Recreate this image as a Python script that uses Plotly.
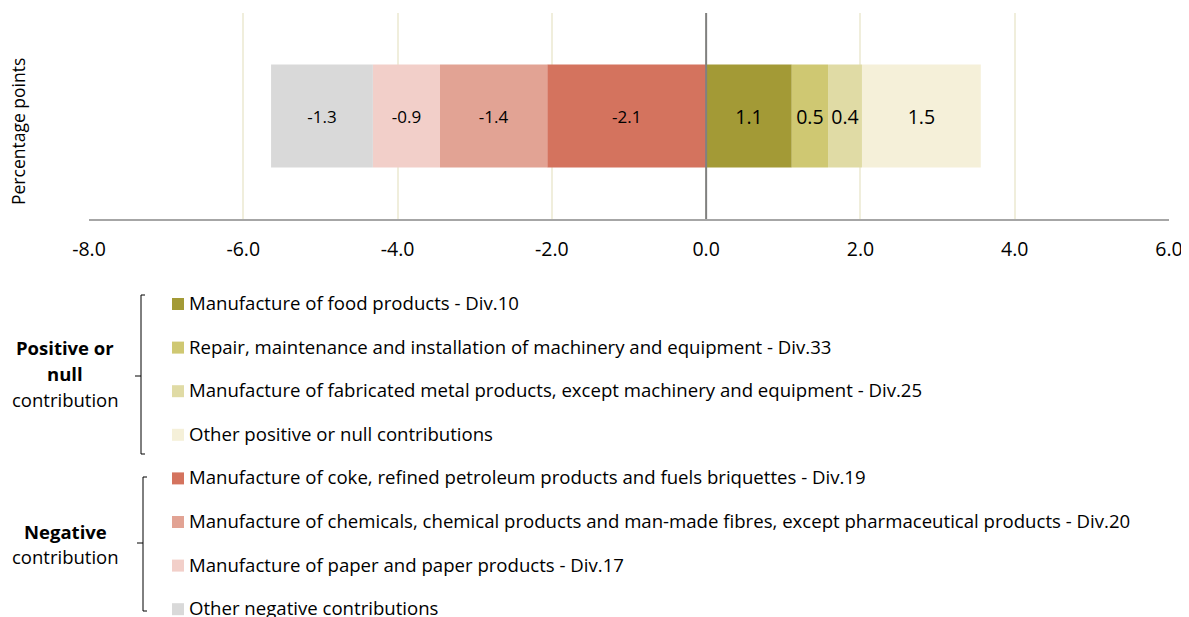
import plotly.graph_objects as go

# ---- data ----
category = ["Total"]
pos_names = [
    "Manufacture of food products - Div.10",
    "Repair, maintenance and installation of machinery and equipment - Div.33",
    "Manufacture of fabricated metal products, except machinery and equipment - Div.25",
    "Other positive or null contributions",
]
pos_values = [1.11, 0.47, 0.44, 1.54]
pos_colors = ["#A39A36", "#CFC872", "#E0DBA5", "#F5F0D9"]

neg_names = [
    "Manufacture of coke, refined petroleum products and fuels briquettes - Div.19",
    "Manufacture of chemicals, chemical products and man-made fibres, except pharmaceutical products - Div.20",
    "Manufacture of paper and paper products - Div.17",
    "Other negative contributions",
]
neg_values = [-2.06, -1.39, -0.87, -1.32]
neg_colors = ["#D4735E", "#E2A394", "#F2CFC9", "#D9D9D9"]

tick_vals = [-8, -6, -4, -2, 0, 2, 4, 6]
tick_text = ["-8.0", "-6.0", "-4.0", "-2.0", "0.0", "2.0", "4.0", "6.0"]

group_pos_lines = ["<b>Positive or</b>", "<b>null</b>", "contribution"]
group_neg_lines = ["<b>Negative</b>", "contribution"]

FONT = "Open Sans"

fig = go.Figure()
for name, v, c in zip(neg_names, neg_values, neg_colors):
    fig.add_trace(go.Bar(
        y=category, x=[v], name=name, orientation="h",
        marker=dict(color=c, line=dict(width=0)),
        text=[f"{v:.1f}"], textposition="inside", insidetextanchor="middle",
        textangle=0, textfont=dict(size=17, color="#000000", family=FONT),
        showlegend=False,
    ))
for name, v, c in zip(pos_names, pos_values, pos_colors):
    fig.add_trace(go.Bar(
        y=category, x=[v], name=name, orientation="h",
        marker=dict(color=c, line=dict(width=0)),
        text=[f"{v:.1f}"], textposition="inside", insidetextanchor="middle",
        textangle=0, textfont=dict(size=19.5, color="#000000", family=FONT),
        showlegend=False,
    ))

# page offset (browser body margin)
O = 8
W, H = 1189 - O, 617 - O
L, T = 89 - O, 13 - O
R = W - (1169 - O)
B = H - (219 - O)
PW, PH = W - L - R, H - T - B


def px(x):
    return (x - O - L) / PW


def py(y):
    return (H - B - (y - O)) / PH


shapes = []
annotations = []

# zero line
shapes.append(dict(type="line", xref="x", yref="paper", x0=0, x1=0, y0=0, y1=1,
                   line=dict(color="#808080", width=2)))

# y-axis title
annotations.append(dict(text="Percentage points", xref="paper", yref="paper",
                        x=px(18), y=py(132), textangle=-90, showarrow=False,
                        xanchor="center", yanchor="middle",
                        font=dict(size=17.5, color="#000000", family=FONT)))

# legend rows
legend_names = pos_names + neg_names
legend_colors = pos_colors + neg_colors
for i, (n, c) in enumerate(zip(legend_names, legend_colors)):
    yc = 304 + i * 43.6
    shapes.append(dict(type="rect", xref="paper", yref="paper",
                       x0=px(172), x1=px(184), y0=py(yc - 6), y1=py(yc + 6),
                       fillcolor=c, line=dict(width=0)))
    annotations.append(dict(text=n, xref="paper", yref="paper", x=px(187), y=py(yc - 1.5),
                            xanchor="left", yanchor="middle", showarrow=False,
                            font=dict(size=18.6, color="#000000", family=FONT)))

# brackets
def bracket(xv, y0, y1, ym):
    s = dict(color="#000000", width=1)
    return [
        dict(type="line", xref="paper", yref="paper", x0=px(xv), x1=px(xv), y0=py(y0), y1=py(y1), line=s),
        dict(type="line", xref="paper", yref="paper", x0=px(xv), x1=px(xv + 4), y0=py(y0), y1=py(y0), line=s),
        dict(type="line", xref="paper", yref="paper", x0=px(xv), x1=px(xv + 4), y0=py(y1), y1=py(y1), line=s),
        dict(type="line", xref="paper", yref="paper", x0=px(xv - 6), x1=px(xv), y0=py(ym), y1=py(ym), line=s),
    ]

shapes += bracket(141, 295, 454, 376)
shapes += bracket(143, 477, 611, 543)

# group labels
for j, t in enumerate(group_pos_lines):
    annotations.append(dict(text=t, xref="paper", yref="paper",
                            x=px(65), y=py(347 + 26 * j), xanchor="center", yanchor="middle",
                            showarrow=False, font=dict(size=18.5, color="#000000", family=FONT)))
for j, t in enumerate(group_neg_lines):
    annotations.append(dict(text=t, xref="paper", yref="paper",
                            x=px(65), y=py(531 + 26 * j), xanchor="center", yanchor="middle",
                            showarrow=False, font=dict(size=18.5, color="#000000", family=FONT)))

fig.update_layout(
    width=W, height=H,
    margin=dict(l=L, r=R, t=T, b=B, autoexpand=False),
    barmode="relative", bargap=0.5,
    plot_bgcolor="#FFFFFF", paper_bgcolor="#FFFFFF",
    font=dict(family=FONT, size=18, color="#000000"),
    xaxis=dict(range=[-8, 6], tickvals=tick_vals, ticktext=tick_text,
               showgrid=True, gridcolor="#F0EEDC", gridwidth=2,
               zeroline=False, showline=True, linecolor="#A6A6A6", linewidth=2,
               ticks="outside", ticklen=12, tickcolor="rgba(0,0,0,0)",
               tickfont=dict(size=19.5, family=FONT, color="#000000")),
    yaxis=dict(showticklabels=False, showgrid=False, zeroline=False, range=[-0.5, 0.5]),
    shapes=shapes, annotations=annotations,
)

fig.write_html("out.html")
